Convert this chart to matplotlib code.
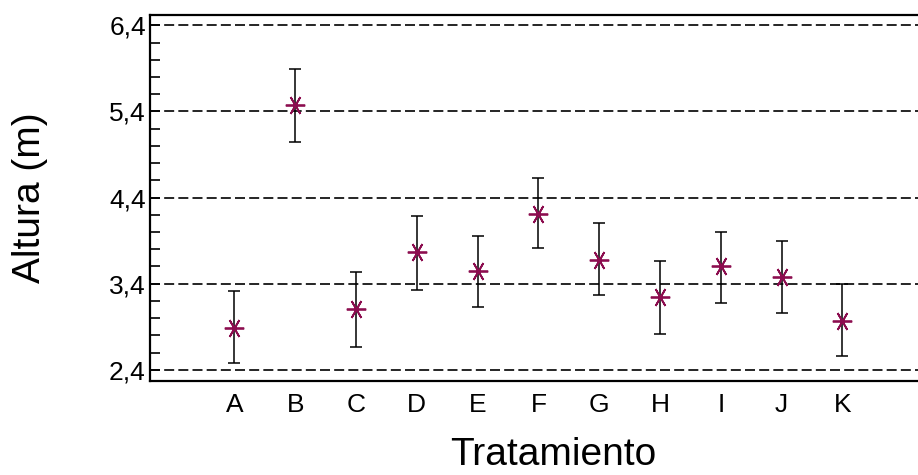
import numpy as np
import matplotlib
matplotlib.use('Agg')
import matplotlib.pyplot as plt
from matplotlib.ticker import MultipleLocator, FuncFormatter

plt.rcParams['font.family'] = ['Liberation Sans', 'DejaVu Sans']

tratamientos = ['A', 'B', 'C', 'D', 'E', 'F', 'G', 'H', 'I', 'J', 'K']
media = [2.89, 5.47, 3.11, 3.77, 3.55, 4.21, 3.67, 3.24, 3.60, 3.48, 2.97]
lim_inf = [2.48, 5.04, 2.67, 3.33, 3.13, 3.81, 3.27, 2.81, 3.17, 3.06, 2.56]
lim_sup = [3.31, 5.89, 3.54, 4.19, 3.95, 4.63, 4.11, 3.66, 4.00, 3.90, 3.40]
yticks = [2.4, 3.4, 4.4, 5.4, 6.4]

media = np.array(media)
err = [media - np.array(lim_inf), np.array(lim_sup) - media]
x = np.arange(len(tratamientos))

fig = plt.figure(figsize=(9.18, 4.75), dpi=100)
ax = fig.add_axes([150/918, 1-381/475, 1-150/918 + 0.05, (381-15)/475])

# lineas de referencia discontinuas
for yv in yticks:
    ax.axhline(yv, color='black', lw=1.2, ls=(0, (6, 2.5)), zorder=1)

ax.errorbar(x, media, yerr=err, fmt='none', ecolor='black', elinewidth=1.1,
            capsize=4.5, capthick=1.1, zorder=2)
ax.plot(x, media, ls='none', marker=(6, 2, 90), ms=14, mew=1.3,
        color='#8c0d4f', zorder=3)

ax.set_xlim(-1.39, 12.0)
ax.set_ylim(2.27, 6.52)
ax.set_xticks(x)
ax.set_xticklabels(tratamientos)
ax.set_yticks(yticks)
ax.yaxis.set_minor_locator(MultipleLocator(0.2))
ax.yaxis.set_major_formatter(FuncFormatter(lambda v, p: f'{v:.1f}'.replace('.', ',')))
ax.tick_params(axis='x', length=0, labelsize=19, pad=9)
ax.tick_params(axis='y', which='major', direction='in', length=7, width=1.2, labelsize=19, pad=3)
ax.tick_params(axis='y', which='minor', direction='in', length=7, width=1.2)

for s in ['left', 'top', 'bottom']:
    ax.spines[s].set_linewidth(1.6)
ax.spines['right'].set_visible(False)

fig.text(30/918, 1-198/475, 'Altura (m)', rotation=90, fontsize=28,
         ha='center', va='center')
fig.text(553/918, 1-455/475, 'Tratamiento', fontsize=28, ha='center', va='center')

fig.savefig('out.png', dpi=100)
